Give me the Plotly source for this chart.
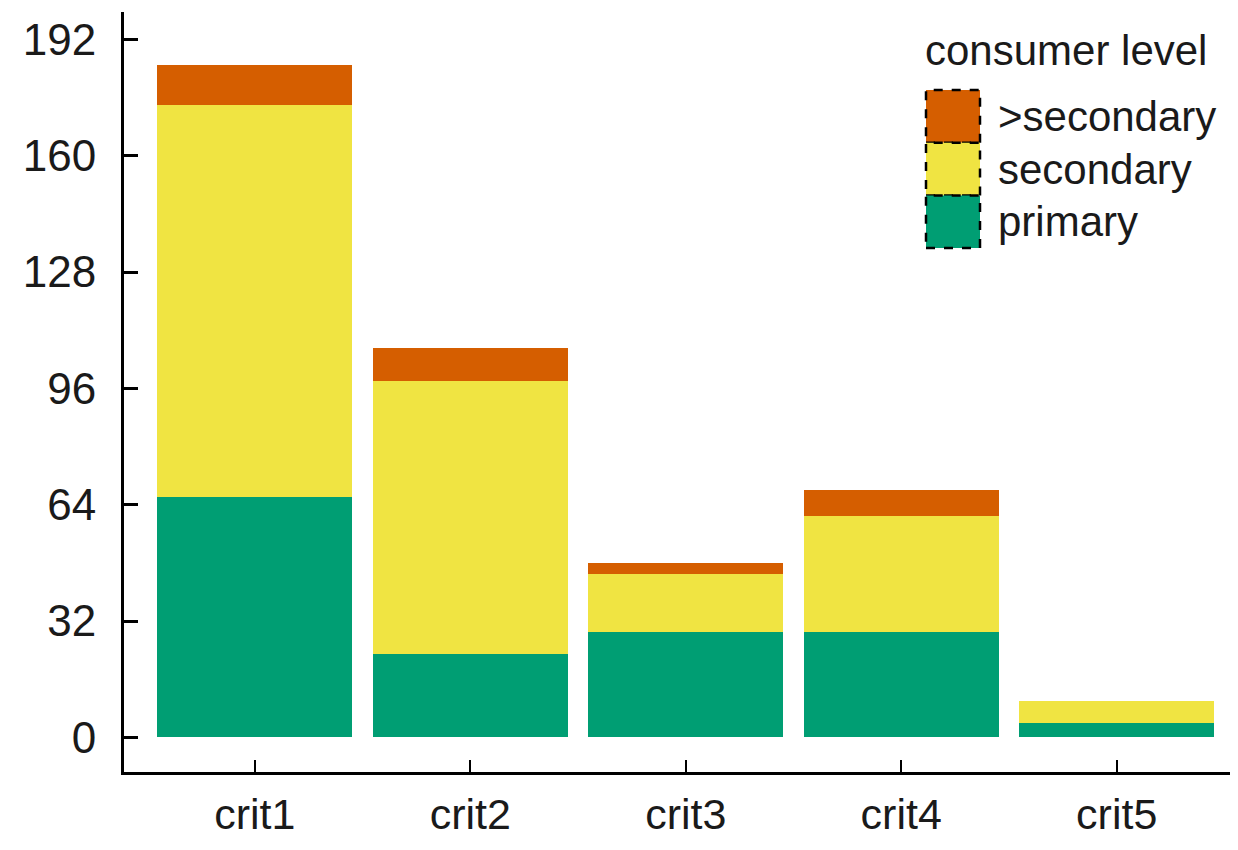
import plotly.graph_objects as go

categories = ["crit1", "crit2", "crit3", "crit4", "crit5"]
primary = [66, 23, 29, 29, 4]
secondary = [108, 75, 16, 32, 6]
above_secondary = [11, 9, 3, 7, 0]
series_names = ["primary", "secondary", ">secondary"]
series_colors = ["#009E73", "#F0E442", "#D55E00"]
y_ticks = [0, 32, 64, 96, 128, 160, 192]
legend_title = "consumer level"

OFF = 8  # page body margin in the browser
W, H = 1238, 850
L, R, T, B = 124 - OFF, 0, 12 - OFF, H - (772 - OFF)
FONT = "Arial, Liberation Sans, sans-serif"

fig = go.Figure()
for name, vals, col in zip(series_names, [primary, secondary, above_secondary], series_colors):
    fig.add_trace(go.Bar(x=categories, y=vals, name=name, marker=dict(color=col, line=dict(width=0)),
                         showlegend=False))

fig.update_layout(
    width=W, height=H, barmode="stack", bargap=0.096,
    margin=dict(l=L, r=R, t=T, b=B, autoexpand=False),
    plot_bgcolor="white", paper_bgcolor="white",
    font=dict(family=FONT, color="#1a1a1a"),
)
fig.update_xaxes(range=[-0.607, 4.6], showline=True, linecolor="black", linewidth=3,
                 ticks="inside", ticklen=12, tickwidth=2, tickcolor="black",
                 tickfont=dict(size=43, family=FONT, color="#1a1a1a"), ticklabelstandoff=2,
                 showgrid=False, zeroline=False, automargin=False)
fig.update_yaxes(range=[-9.5, 199.5], tickvals=y_ticks, showline=True, linecolor="black", linewidth=3,
                 ticks="inside", ticklen=14, tickwidth=3, tickcolor="black",
                 tickfont=dict(size=44, family=FONT, color="#1a1a1a"), ticklabelstandoff=16,
                 showgrid=False, zeroline=False, automargin=False)

# custom legend (layout decoration) in paper coordinates; inputs are screenshot pixels
pw, ph = W - L - R, H - T - B
def px(x):
    return (x - OFF - L) / pw
def py(y):
    return (H - B - (y - OFF)) / ph

fig.add_annotation(x=px(923), y=py(51), xref="paper", yref="paper", text=legend_title,
                   showarrow=False, xanchor="left", yanchor="middle",
                   font=dict(size=42, family=FONT, color="#1a1a1a"))
rows = list(zip(series_names, series_colors))[::-1]
top = 90
hgt = 52.7
for i, (name, col) in enumerate(rows):
    y0 = top + i * hgt
    y1 = y0 + hgt
    fig.add_shape(type="rect", xref="paper", yref="paper", x0=px(926), x1=px(980), y0=py(y1), y1=py(y0),
                  fillcolor=col, line=dict(color="black", width=2.5, dash="dash"), layer="above")
    fig.add_annotation(x=px(996), y=py((y0 + y1) / 2), xref="paper", yref="paper", text=name,
                       showarrow=False, xanchor="left", yanchor="middle",
                       font=dict(size=42, family=FONT, color="#1a1a1a"))

fig.write_html("out.html")
